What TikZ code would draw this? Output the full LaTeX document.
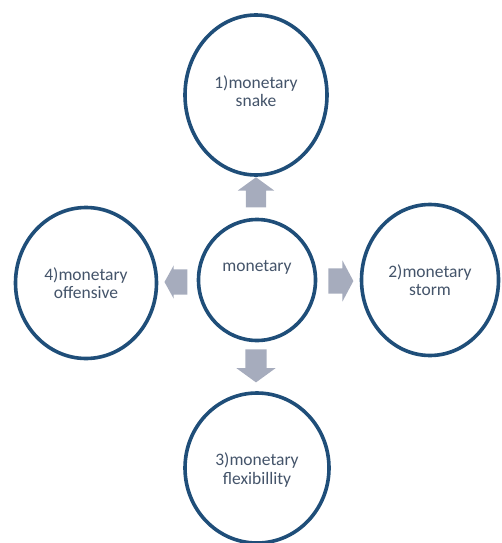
\documentclass[tikz,border=0pt]{standalone}
\usepackage{fontspec}
\setmainfont{Carlito}
\usetikzlibrary{shapes.geometric,shapes.arrows}

\definecolor{ringblue}{RGB}{31,78,121}
\definecolor{txtblue}{RGB}{68,84,106}
\definecolor{pushgray}{RGB}{166,172,189}

\tikzset{
  bubble/.style={ellipse, draw=ringblue, line width=3.6pt, fill=white, inner sep=0pt},
  lbl/.style={text=txtblue, align=center, inner sep=0pt,
    font=\fontsize{17.5}{18.5}\selectfont},
  push/.style={single arrow, fill=pushgray, draw=none, inner sep=0pt}
}

\begin{document}
\begin{tikzpicture}[x=1pt,y=-1pt]

\useasboundingbox (0,0) rectangle (501,543);

% --- Cerchi ---
\node[bubble, minimum width=142, minimum height=160] (snake) at (256,95)  {};
\node[bubble, minimum width=117, minimum height=121] (core)  at (257,280) {};
\node[bubble, minimum width=141, minimum height=151] (offen) at (86,283)  {};
\node[bubble, minimum width=137, minimum height=151] (storm) at (430,280) {};
\node[bubble, minimum width=144, minimum height=150] (flex)  at (257,468) {};

% --- Testi ---
\node[lbl] (snaketxt) at (256,91)  {1)monetary\\snake};
\node[lbl] (coretxt)  at (257,267) {monetary};
\node[lbl] (offentxt) at (86,283)  {4)monetary\\offensive};
\node[lbl] (stormtxt) at (430,280) {2)monetary\\storm};
\node[lbl] (flextxt)  at (257,470) {3)monetary\\flexibillity};

% --- Frecce (verticali: larghezza con xsep) ---
\node[push, shape border rotate=90, minimum height=30, inner xsep=10pt,
  single arrow head extend=8, single arrow tip angle=108] (pup) at (256,196) {};
\node[push, shape border rotate=270, minimum height=33, inner xsep=10.5pt,
  single arrow head extend=9, single arrow tip angle=108] (pdown) at (256,362) {};
\node[push, shape border rotate=180, minimum height=23, inner ysep=12.5pt,
  single arrow head extend=4, single arrow tip angle=122] (pleft) at (179.5,282) {};
\node[push, minimum height=25, inner ysep=12.5pt,
  single arrow head extend=8, single arrow tip angle=124] (pright) at (337.5,281) {};

\end{tikzpicture}
\end{document}
